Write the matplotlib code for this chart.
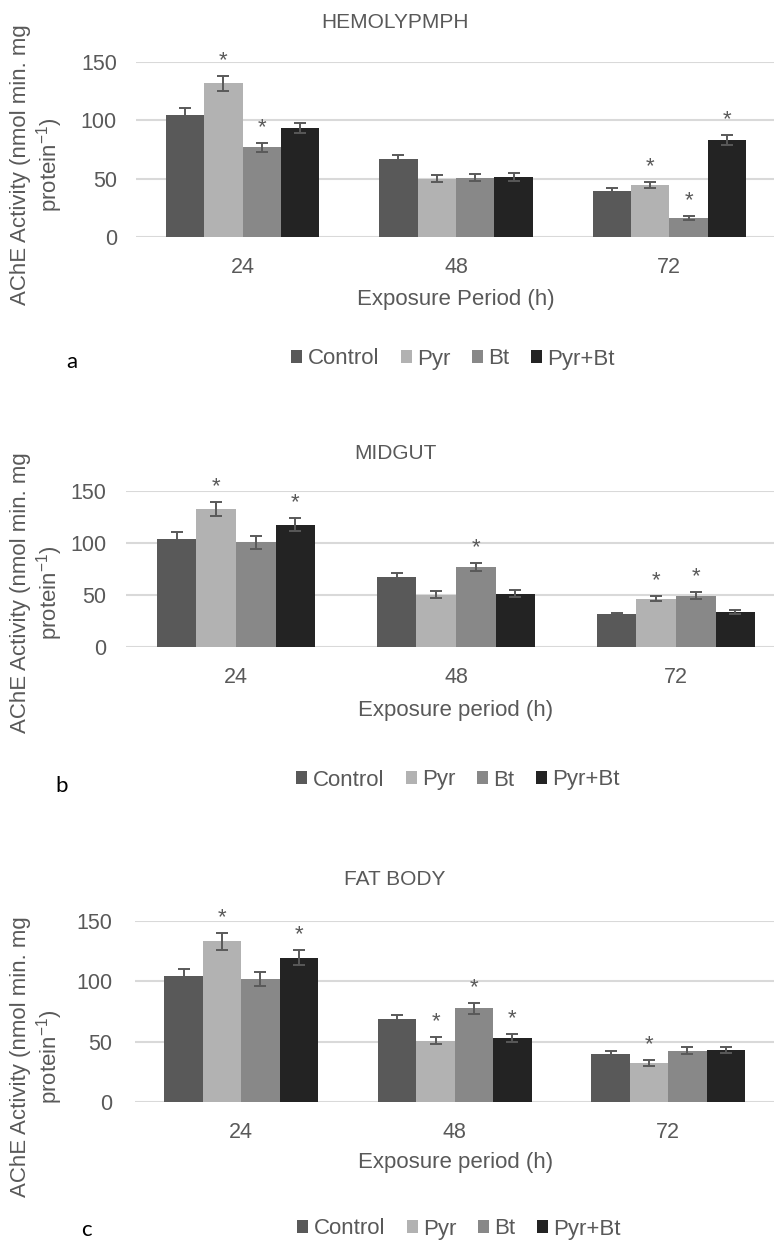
import numpy as np
import matplotlib
matplotlib.use('Agg')
import matplotlib.pyplot as plt

# data
periods = ['24', '48', '72']
groups = ['Control', 'Pyr', 'Bt', 'Pyr+Bt']
colors = ['#595959', '#b2b2b2', '#888888', '#232323']

# hemolymph
hemo_mean = [[105, 67, 39.5], [132, 50, 44.5], [77, 50.5, 16], [93.5, 51.5, 83]]
hemo_err = [[5.5, 3.5, 2.5], [6.5, 3, 2.5], [4, 3, 1.5], [4.5, 3.5, 4.5]]
hemo_star = [[0, 0, 0], [1, 0, 1], [1, 0, 1], [0, 0, 1]]

# midgut
mid_mean = [[104, 67.5, 31.5], [132.5, 50.5, 46.5], [100.5, 77, 49.5], [117.5, 51.5, 33.5]]
mid_err = [[6, 3.5, 1.5], [7, 3, 2.5], [6, 4, 3.5], [6, 3.5, 2]]
mid_star = [[0, 0, 0], [1, 0, 1], [0, 1, 1], [1, 0, 0]]

# fat body
fat_mean = [[104.5, 68.5, 40], [133, 51, 32.5], [102, 77.5, 42.5], [119.5, 53, 43]]
fat_err = [[6, 3.5, 2.5], [7, 3, 2.5], [6, 4.5, 3], [6, 3.5, 2.5]]
fat_star = [[0, 0, 0], [1, 1, 1], [0, 1, 0], [1, 1, 0]]

W, H = 774, 1243
GRAY = '#595959'
plt.rcParams['font.family'] = ['Liberation Sans', 'DejaVu Sans']


def fx(x):
    return x / W


def fy(y):
    return 1 - y / H


def draw_panel(fig, box, means, errs, stars, title, title_y, xlabel, xlabel_y,
               leg_xy, tag, tag_xy, ylab_xy, ypad):
    left, top, right, bottom = box
    ax = fig.add_axes([fx(left), fy(bottom), (right - left) / W, (bottom - top) / H])
    x = np.arange(len(periods))
    w = 0.18
    for i, g in enumerate(groups):
        off = (i - 1.5) * w
        ax.bar(x + off, means[i], w, color=colors[i], label=g, zorder=3,
               yerr=errs[i],
               error_kw=dict(ecolor=GRAY, elinewidth=1.4, capsize=4.3, capthick=1.4, zorder=4))
        for j in range(len(periods)):
            if stars[i][j]:
                ax.annotate('*', (x[j] + off, means[i][j] + errs[i][j]),
                            xytext=(0, 7), textcoords='offset points',
                            ha='center', va='baseline', fontsize=16, color=GRAY,
                            annotation_clip=False, zorder=5)
    ax.set_xlim(-0.5, 2.5)
    ax.set_ylim(0, 150)
    ax.set_yticks([0, 50, 100, 150])
    ax.set_xticks(x)
    ax.set_xticklabels(periods)
    ax.tick_params(axis='both', length=0, labelsize=15.5, labelcolor=GRAY)
    ax.tick_params(axis='y', pad=ypad)
    ax.tick_params(axis='x', pad=14.4)
    ax.grid(axis='y', color='#d9d9d9', linewidth=1.5)
    ax.set_axisbelow(True)
    for s in ax.spines.values():
        s.set_visible(False)

    fig.text(fx(395), fy(title_y), title, ha='center', va='baseline',
             fontsize=15, color=GRAY)
    fig.text(fx(456), fy(xlabel_y), xlabel, ha='center', va='baseline',
             fontsize=16, color=GRAY)
    fig.text(fx(ylab_xy[0]), fy(ylab_xy[1]),
             'AChE Activity (nmol min. mg\nprotein$^{\\mathregular{-1}}$)',
             rotation=90, ha='center', va='center', multialignment='center',
             fontsize=16, color=GRAY, linespacing=1.15)
    fig.text(fx(tag_xy[0]), fy(tag_xy[1]), tag, ha='center', va='baseline',
             fontsize=16, color='black', family=['Lato', 'DejaVu Sans'])
    ax.legend(loc='center', bbox_to_anchor=(fx(leg_xy[0]), fy(leg_xy[1])),
              bbox_transform=fig.transFigure, ncol=4, frameon=False,
              fontsize=16, labelcolor=GRAY, handlelength=0.5, handleheight=0.5,
              handletextpad=0.25, columnspacing=0.95, borderpad=0, borderaxespad=0)
    return ax


fig = plt.figure(figsize=(W / 100, H / 100), dpi=100)

draw_panel(fig, (136, 62.3, 776, 236.7), hemo_mean, hemo_err, hemo_star,
           'HEMOLYPMPH', 28.3, 'Exposure Period (h)', 305,
           (453, 359), 'a', (71.6, 368), (37.5, 165), 13.7)
draw_panel(fig, (126, 490.7, 786, 647.3), mid_mean, mid_err, mid_star,
           'MIDGUT', 459, 'Exposure period (h)', 716,
           (458, 780), 'b', (61.7, 792), (37.5, 593), 14.4)
draw_panel(fig, (134.5, 920.7, 775, 1102.3), fat_mean, fat_err, fat_star,
           'FAT BODY', 885, 'Exposure period (h)', 1168,
           (459, 1229), 'c', (86.4, 1236), (37.5, 1057), 15.8)

fig.savefig('out.png', dpi=100)
